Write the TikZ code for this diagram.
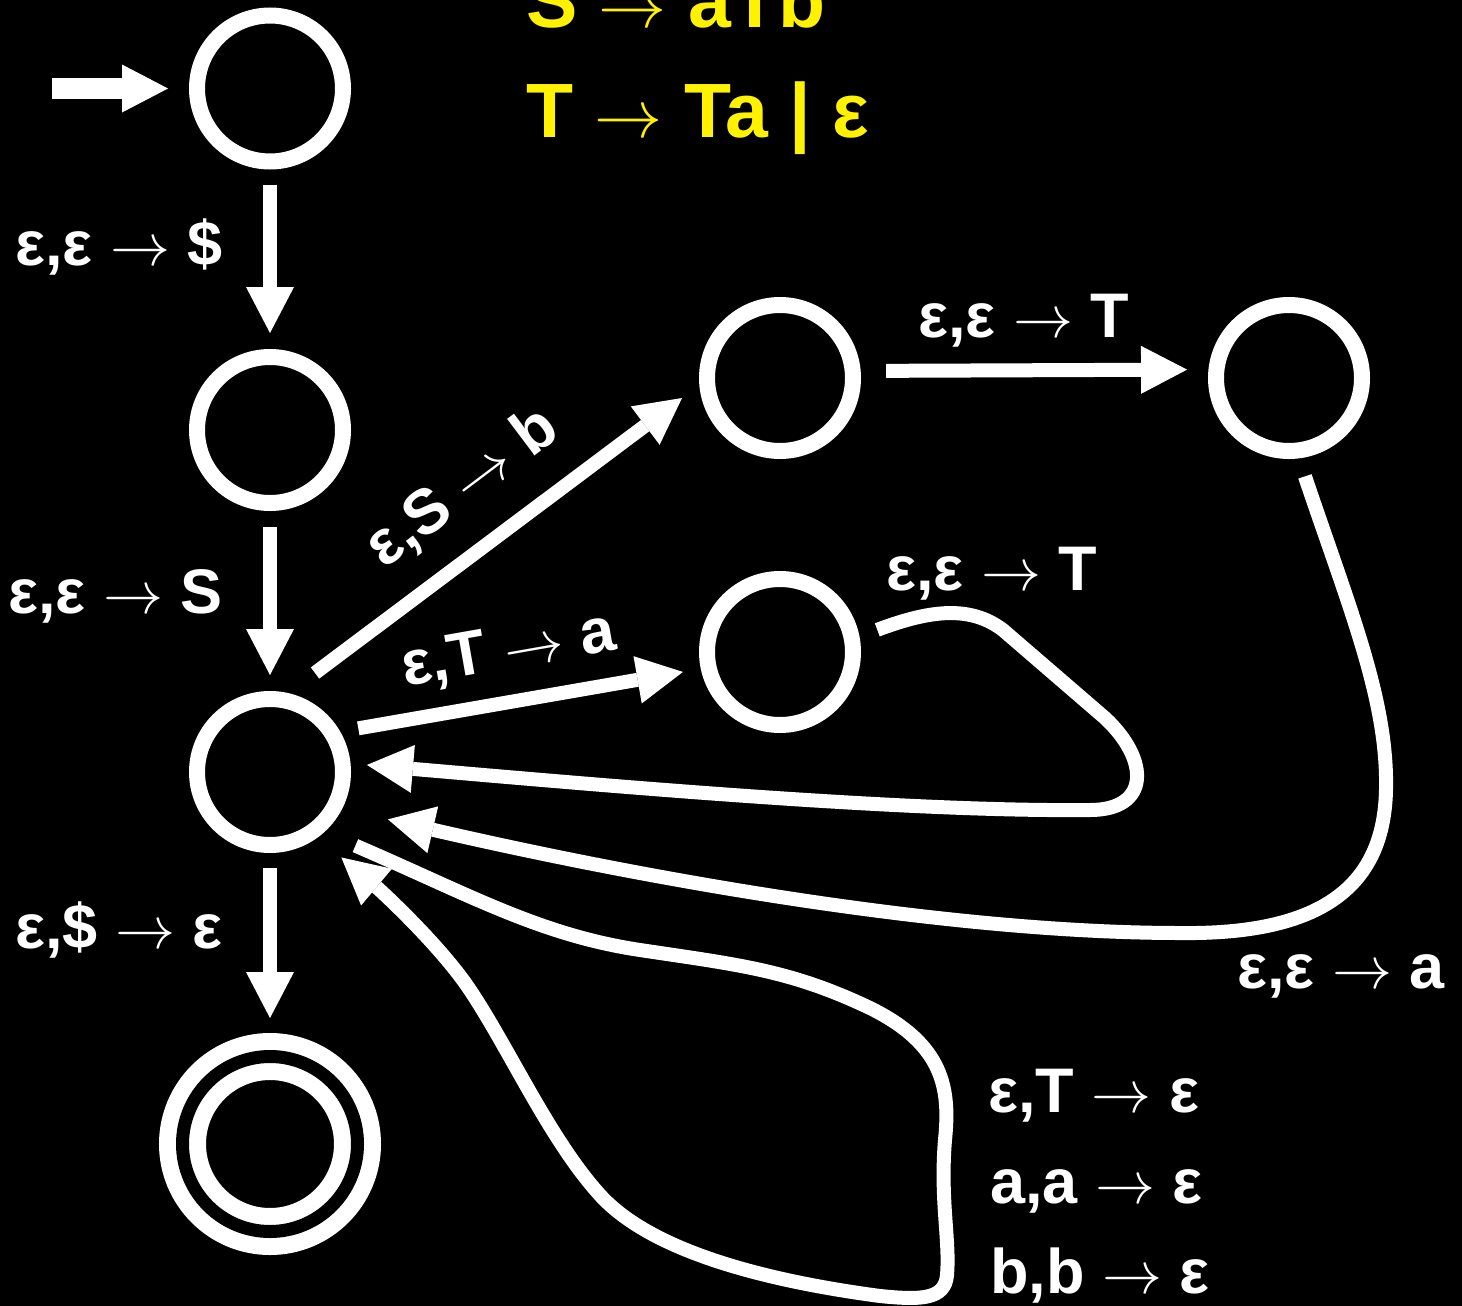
\documentclass[tikz,border=0pt]{standalone}
\usepackage{graphicx}
\usepackage{fontspec}
\setmainfont{Liberation Sans}
\usetikzlibrary{arrows.meta}
\tikzset{
  state/.style={circle, draw=white, line width=16pt, minimum size=146pt, inner sep=0pt, outer sep=8pt},
  accept/.style={circle, draw=white, double=black, double distance=13pt, line width=17pt, minimum size=175pt, inner sep=0pt, outer sep=23.5pt},
  edge/.style={draw=white, line width=14pt, -{Triangle[length=46pt,width=48pt,line width=0pt]}},
  lbl/.style={text=white, font=\fontsize{63}{75}\selectfont\bfseries, inner sep=0pt, anchor=base west},
  gram/.style={text=yellow, font=\fontsize{77}{90}\selectfont\bfseries, inner sep=0pt, anchor=base west},
}
\newcommand{\myarr}[1]{\scalebox{#1}{\fontsize{10}{12}\selectfont$\rightarrow$}}
\newcommand{\la}{\myarr{6}}
\newcommand{\garr}{\myarr{6.8}}
\begin{document}
\begin{tikzpicture}[x=1pt,y=-1pt]
\fill[black] (0,0) rectangle (1462,1306);
\useasboundingbox (0,0) rectangle (1462,1306);

% states
\node[state] (q0) at (270,88.5) {};
\node[state] (q1) at (270,430) {};
\node[state] (q2) at (270,772) {};
\node[accept] (q3) at (270,1144) {};
\node[state] (q4) at (780,378) {};
\node[state] (q5) at (1289,378) {};
\node[state] (q6) at (780,652) {};
\coordinate (init) at (52,88.5);

% grammar
\node[gram] (g1) at (526,28) {S \garr{} aTb};
\node[gram] (g2) at (526,137) {T \garr{} Ta | ε};

% straight edges
\draw[edge, line width=20pt, shorten >=21pt] (init) -- (q0.west);
\draw[edge, shorten <=15pt, shorten >=16pt] (q0.south) -- (q1.north);
\draw[edge, shorten <=16pt, shorten >=16pt] (q1.south) -- (q2.north);
\draw[edge, shorten <=15pt, shorten >=15pt] (q2.south) -- (q3.north);
\draw[edge, shorten <=33.5pt, shorten >=21.6pt] (q2.77) -- (q4.185);
\draw[edge, shorten <=18.4pt, shorten >=18.1pt] (q2.30.3) -- (q6.192.1);
\draw[edge, shorten <=25.4pt, shorten >=21.4pt] (q4.5.7) -- (q5.174.3);

% curved edges
\draw[edge, shorten <=19pt, shorten >=16.5pt] (q6.11.5)
  .. controls (930,610) and (970,605) .. (1003,630)
  -- (1105,718)
  .. controls (1150,760) and (1150,810) .. (1090,810)
  .. controls (900,812) and (600,785) .. (q2.6.5);
\draw[edge, shorten <=19pt, shorten >=47pt] (q5.277.4)
  .. controls (1350,610) and (1388,700) .. (1386,790)
  .. controls (1384,880) and (1330,935) .. (1180,933)
  .. controls (950,933) and (650,880) .. (q2.-27);
\draw[edge, shorten <=34pt, shorten >=31pt] (q2.-48)
  .. controls (470,895) and (540,935) .. (640,950)
  .. controls (740,965) and (790,970) .. (870,1008)
  .. controls (945,1045) and (950,1090) .. (945,1140)
  .. controls (940,1200) and (950,1240) .. (947,1275)
  .. controls (945,1300) and (920,1300) .. (880,1296)
  .. controls (760,1280) and (650,1250) .. (600,1195)
  .. controls (550,1140) and (510,1050) .. (470,990)
  .. controls (440,945) and (380,890) .. (q2.-54.5);

% labels
\node[lbl] (l01) at (15,265) {ε,ε \la{} \$};
\node[lbl] (l12) at (8,613) {ε,ε \la{} S};
\node[lbl] (l23) at (15,948) {ε,\$ \la{} ε};
\node[lbl, rotate=37] (l24) at (384,570) {ε,S \la{} b};
\node[lbl, rotate=10] (l26) at (405,687) {ε,T \la{} a};
\node[lbl] (l45) at (918,337) {ε,ε \la{} T};
\node[lbl] (l62) at (886,590) {ε,ε \la{} T};
\node[lbl] (l52) at (1237,988) {ε,ε \la{} a};
\node[lbl] (l22a) at (988,1112) {ε,T \la{} ε};
\node[lbl] (l22b) at (990,1203) {a,a \la{} ε};
\node[lbl] (l22c) at (990,1293) {b,b \la{} ε};
\end{tikzpicture}
\end{document}
